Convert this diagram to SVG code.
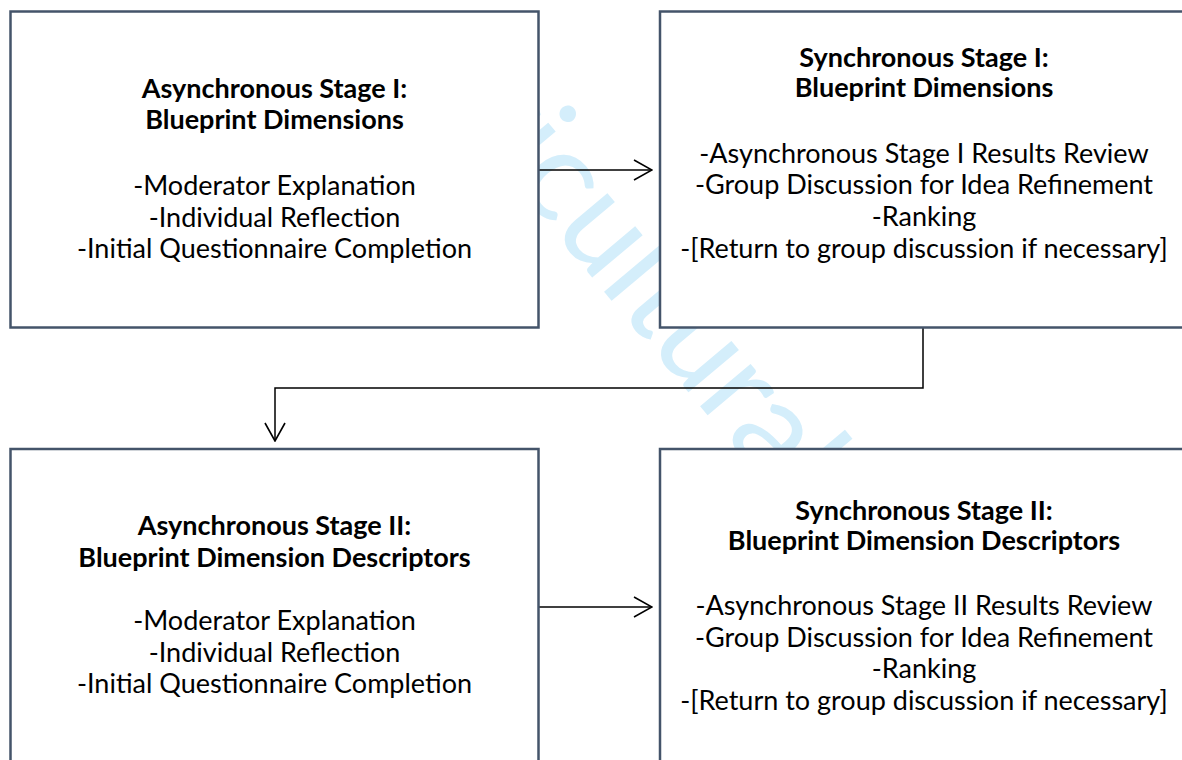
<svg xmlns="http://www.w3.org/2000/svg" width="1182" height="760" viewBox="0 0 1182 760">
  <style>
    .box { fill: #ffffff; stroke: #44546a; stroke-width: 2.5; }
    .title { font-family: Lato, "Liberation Sans", sans-serif; font-weight: bold; font-size: 27px; fill: #000000; text-anchor: middle; }
    .body { font-family: Lato, "Liberation Sans", sans-serif; font-size: 27px; fill: #000000; text-anchor: middle; }
    .link { fill: none; stroke: #000000; stroke-width: 1.5; }
    .mark { font-family: Lato, "Liberation Sans", sans-serif; font-size: 130px; fill: #d4eefb; }
  </style>
  <defs>
    <marker id="chevron" viewBox="0 0 20 22" refX="19" refY="11" markerWidth="20" markerHeight="22" markerUnits="userSpaceOnUse" orient="auto">
      <path d="M1,1 L19,11 L1,21" fill="none" stroke="#000000" stroke-width="1.6"/>
    </marker>
    <clipPath id="mark-area">
      <rect x="539" y="0" width="643" height="760"/>
    </clipPath>
  </defs>

  <rect width="1182" height="760" fill="#ffffff"/>

  <!-- background watermark, covered by the boxes -->
  <g id="watermark" clip-path="url(#mark-area)">
    <text class="mark" transform="translate(361,2) rotate(50)" x="0" y="0">Agricultural Education</text>
  </g>

  <g id="connectors">
    <path class="link" d="M539,170 H652" marker-end="url(#chevron)"/>
    <path class="link" d="M923,328 V388 H275 V441" marker-end="url(#chevron)"/>
    <path class="link" d="M539,607 H652" marker-end="url(#chevron)"/>
  </g>

  <g id="async-stage-1">
    <rect class="box" x="10.5" y="11.5" width="528" height="316"/>
    <text class="title" x="274.5" y="98">Asynchronous Stage I:</text>
    <text class="title" x="274.5" y="129">Blueprint Dimensions</text>
    <text class="body" x="274.5" y="195">-Moderator Explanation</text>
    <text class="body" x="274.5" y="227">-Individual Reflection</text>
    <text class="body" x="274.5" y="258">-Initial Questionnaire Completion</text>
  </g>

  <g id="sync-stage-1">
    <rect class="box" x="660" y="11.5" width="529" height="316"/>
    <text class="title" x="924" y="67">Synchronous Stage I:</text>
    <text class="title" x="924" y="97">Blueprint Dimensions</text>
    <text class="body" x="924" y="163">-Asynchronous Stage I Results Review</text>
    <text class="body" x="924" y="194">-Group Discussion for Idea Refinement</text>
    <text class="body" x="924" y="226">-Ranking</text>
    <text class="body" x="924" y="258">-[Return to group discussion if necessary]</text>
  </g>

  <g id="async-stage-2">
    <rect class="box" x="10.5" y="449" width="528" height="316"/>
    <text class="title" x="274.5" y="535">Asynchronous Stage II:</text>
    <text class="title" x="274.5" y="567">Blueprint Dimension Descriptors</text>
    <text class="body" x="274.5" y="630">-Moderator Explanation</text>
    <text class="body" x="274.5" y="662">-Individual Reflection</text>
    <text class="body" x="274.5" y="693">-Initial Questionnaire Completion</text>
  </g>

  <g id="sync-stage-2">
    <rect class="box" x="660" y="449" width="529" height="316"/>
    <text class="title" x="924" y="520">Synchronous Stage II:</text>
    <text class="title" x="924" y="550">Blueprint Dimension Descriptors</text>
    <text class="body" x="924" y="615">-Asynchronous Stage II Results Review</text>
    <text class="body" x="924" y="647">-Group Discussion for Idea Refinement</text>
    <text class="body" x="924" y="678">-Ranking</text>
    <text class="body" x="924" y="710">-[Return to group discussion if necessary]</text>
  </g>
</svg>
